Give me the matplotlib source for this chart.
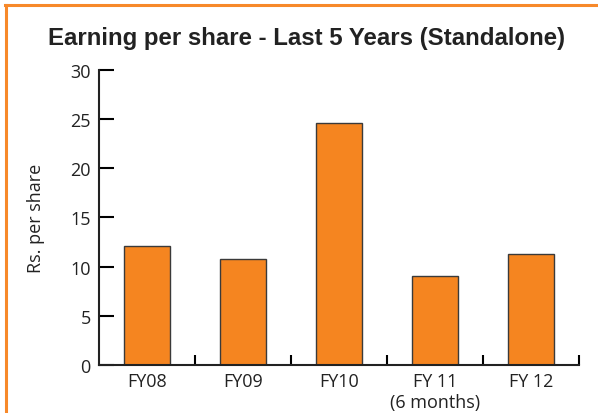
import matplotlib.pyplot as plt
from matplotlib.lines import Line2D

# data
years = ["FY08", "FY09", "FY10", "FY 11\n(6 months)", "FY 12"]
eps = [12.1, 10.8, 24.6, 9.0, 11.3]
y_ticks = [0, 5, 10, 15, 20, 25, 30]

ORANGE = "#F58520"
BORDER = "#F7892A"

plt.rcParams['font.family'] = ['Open Sans', 'DejaVu Sans']

fig = plt.figure(figsize=(5.98, 4.14), dpi=100)
ax = fig.add_axes([0.1656, 0.116, 0.8024, 0.7125])

pos = list(range(len(years)))
ax.bar(pos, eps, width=0.48, color=ORANGE, edgecolor="#3a3a3a", linewidth=1.0, zorder=2)

ax.set_xlim(-0.5, len(years) - 0.5)
ax.set_ylim(0, 30)
ax.set_yticks(y_ticks)

# boundary ticks between categories, labels centered under bars
ax.set_xticks([p + 0.5 for p in pos])
ax.set_xticklabels([])
ax.set_xticks(pos, minor=True)
ax.set_xticklabels(years, minor=True, fontsize=13, color="#222222", linespacing=1.2)
ax.tick_params(axis="x", which="major", direction="in", length=7, width=1.5)
ax.tick_params(axis="x", which="minor", length=0, pad=5)
ax.tick_params(axis="y", direction="in", length=11, width=1.5, labelsize=13,
               labelcolor="#222222", pad=6)

for s in ["top", "right"]:
    ax.spines[s].set_visible(False)
for s in ["left", "bottom"]:
    ax.spines[s].set_linewidth(1.5)
    ax.spines[s].set_color("#222222")

ax.set_ylabel("Rs. per share", fontsize=13, color="#222222", labelpad=18)

fig.text(0.513, 0.908, "Earning per share - Last 5 Years (Standalone)",
         ha="center", va="center", fontsize=17.3, fontweight="bold",
         family=["Liberation Sans", "DejaVu Sans"], color="#222222")

# orange frame (top and left)
fig.add_artist(Line2D([0.009, 1.0], [1 - 6 / 414, 1 - 6 / 414], color=BORDER, linewidth=2.2))
fig.add_artist(Line2D([6 / 598, 6 / 598], [0, 1 - 6 / 414], color=BORDER, linewidth=2.2))

fig.savefig("out.png", dpi=100)
